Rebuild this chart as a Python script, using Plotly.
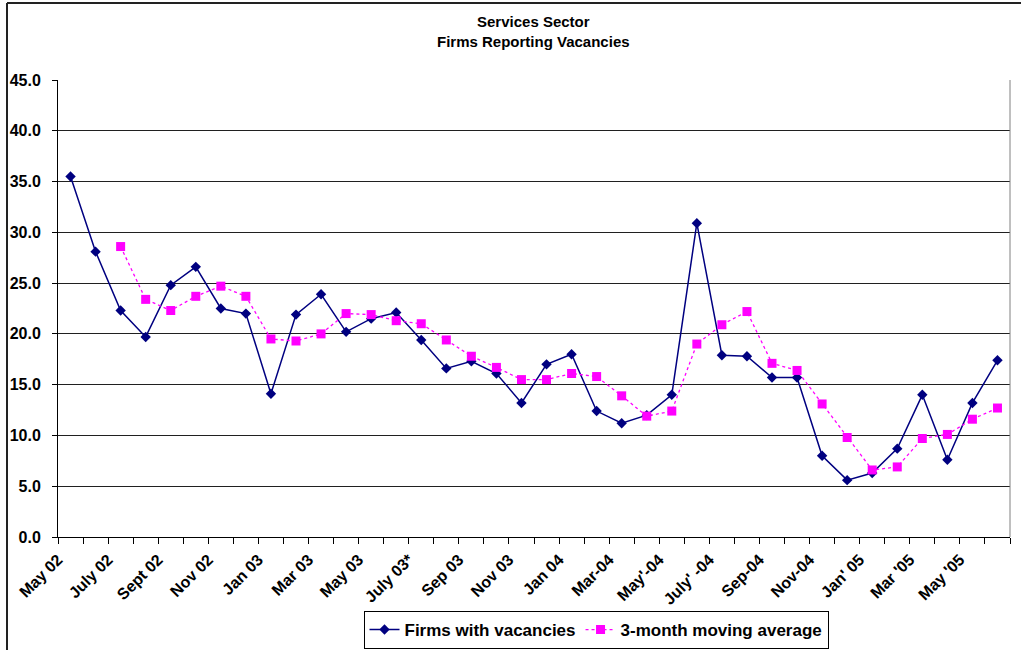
import plotly.graph_objects as go

# ---- data ----
tick_labels = ["May 02", "July 02", "Sept 02", "Nov 02", "Jan 03", "Mar 03", "May 03",
               "July 03*", "Sep 03", "Nov 03", "Jan 04", "Mar-04", "May'-04", "July' -04",
               "Sep-04", "Nov-04", "Jan' 05", "Mar '05", "May '05"]
firms = [35.5, 28.1, 22.3, 19.7, 24.8, 26.6, 22.5, 22.0, 14.1, 21.9,
         23.9, 20.2, 21.5, 22.1, 19.4, 16.6, 17.3, 16.1, 13.2, 17.0,
         18.0, 12.4, 11.2, 12.0, 14.0, 30.9, 17.9, 17.8, 15.7, 15.7,
         8.0, 5.6, 6.3, 8.7, 14.0, 7.6, 13.2, 17.4]
moving_avg = [None, None, 28.6, 23.4, 22.3, 23.7, 24.7, 23.7, 19.5, 19.3,
              20.0, 22.0, 21.9, 21.3, 21.0, 19.4, 17.8, 16.7, 15.5, 15.5,
              16.1, 15.8, 13.9, 11.9, 12.4, 19.0, 20.9, 22.2, 17.1, 16.4,
              13.1, 9.8, 6.6, 6.9, 9.7, 10.1, 11.6, 12.7]
series_names = ["Firms with vacancies", "3-month moving average"]

n = len(firms)
xs = list(range(n))

# category boundaries carry the ticks; every second one carries a label
tickvals = [k - 0.5 for k in range(n + 1)]
ticktext = []
for k in range(n + 1):
    if k % 2 == 0 and k // 2 < len(tick_labels):
        ticktext.append(tick_labels[k // 2])
    else:
        ticktext.append("")

FONT = "Liberation Sans, Arial, sans-serif"

fig = go.Figure()
fig.add_trace(go.Scatter(
    x=xs, y=firms, name=series_names[0], mode="lines+markers",
    line=dict(color="#000080", width=1.5),
    marker=dict(symbol="diamond", size=8, color="#000080"),
))
fig.add_trace(go.Scatter(
    x=xs, y=moving_avg, name=series_names[1], mode="lines+markers",
    line=dict(color="#FF00FF", width=1.3, dash="dot"),
    marker=dict(symbol="square", size=9, color="#FF00FF"),
    connectgaps=False,
))

L, R, T, B = 58, 11, 80, 113
W, H = 1021, 650
pw = W - L - R
ph = H - T - B

def px_x(p):
    return (p - L) / pw

def px_y(p):
    return (H - B - p) / ph

shapes = [
    # outer chart border (left and top visible)
    dict(type="line", xref="paper", yref="paper", x0=px_x(7), x1=px_x(7),
         y0=px_y(H + 5), y1=px_y(3), line=dict(color="#222222", width=2)),
    dict(type="line", xref="paper", yref="paper", x0=px_x(7), x1=px_x(W + 5),
         y0=px_y(3), y1=px_y(3), line=dict(color="#222222", width=2)),
    # plot area right edge
    dict(type="line", xref="paper", yref="paper", x0=1, x1=1, y0=0, y1=1,
         line=dict(color="#808080", width=1)),
]

annotations = [
    dict(text="<b>Services Sector</b>", xref="paper", yref="paper",
         x=px_x(533), y=px_y(22), showarrow=False, xanchor="center", yanchor="middle",
         font=dict(family=FONT, size=15, color="black")),
    dict(text="<b>Firms Reporting Vacancies</b>", xref="paper", yref="paper",
         x=px_x(533), y=px_y(42), showarrow=False, xanchor="center", yanchor="middle",
         font=dict(family=FONT, size=15, color="black")),
]

fig.update_layout(
    width=W, height=H,
    margin=dict(l=L, r=R, t=T, b=B, pad=0, autoexpand=False),
    paper_bgcolor="white", plot_bgcolor="white",
    font=dict(family=FONT, color="black"),
    showlegend=True,
    legend=dict(orientation="h", x=px_x(596), y=px_y(630), xanchor="center", yanchor="middle",
                bordercolor="black", borderwidth=1, bgcolor="white",
                font=dict(family=FONT, size=17, color="black", weight="bold"),
                itemwidth=30, tracegroupgap=0),
    shapes=shapes,
    annotations=annotations,
)

fig.update_xaxes(
    range=[-0.5, n - 0.5], tickmode="array", tickvals=tickvals, ticktext=ticktext,
    tickangle=-45, ticks="outside", ticklen=6, tickcolor="black", tickwidth=1,
    showline=True, linecolor="black", linewidth=1, showgrid=False, zeroline=False,
    automargin=False,
    tickfont=dict(family=FONT, size=16, color="black", weight="bold"),
)
fig.update_yaxes(
    range=[0, 45], dtick=5, tick0=0, tickformat=".1f",
    ticks="outside", ticklen=5, tickcolor="black", tickwidth=1,
    showline=True, linecolor="black", linewidth=1,
    showgrid=True, gridcolor="#202020", gridwidth=1, zeroline=False,
    automargin=False,
    tickfont=dict(family=FONT, size=16, color="black", weight="bold"),
    ticklabelstandoff=8,
)

fig.write_html("out.html")
